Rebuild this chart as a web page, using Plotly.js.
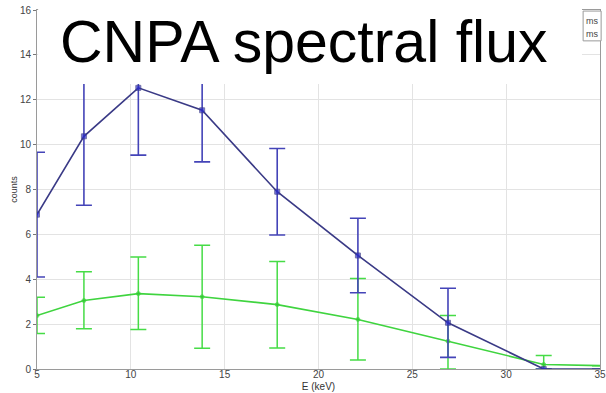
<!DOCTYPE html>
<html>
<head>
<meta charset="utf-8">
<script src="https://cdn.plot.ly/plotly-3.0.1.min.js"></script>
<style>
  html, body { margin: 0; padding: 0; background: #ffffff; }
  #chart { width: 606px; height: 393px; }
</style>
</head>
<body>
<div id="chart"></div>
<script>
// Energy (keV) sample positions
const energy = [5.0, 7.5, 10.4, 13.8, 17.8, 22.1, 26.9, 32.0, 35.0];

// Series 1 (blue)
const blueCounts = [6.88, 10.37, 12.53, 11.53, 7.90, 5.06, 2.06, 0.0, 0.0];
const blueErr    = [2.78, 3.07, 3.00, 2.30, 1.93, 1.66, 1.54, null, null];

// Series 2 (green)
const greenCounts   = [2.38, 3.05, 3.36, 3.22, 2.87, 2.21, 1.24, 0.20, 0.15];
const greenErrPlus  = [0.82, 1.28, 1.63, 2.30, 1.92, 1.82, 1.14, 0.40, null];
const greenErrMinus = [0.80, 1.26, 1.60, 2.30, 1.93, 1.81, 1.24, 0.20, null];

// Axis ticks
const xTicks = [5, 10, 15, 20, 25, 30, 35];
const yTicks = [0, 2, 4, 6, 8, 10, 12, 14, 16];

const titleText = "CNPA spectral flux";
const legendTexts = ["ms", "ms"];

// marker sizes: last sample sits on the frame edge and shows no marker
const blueSizes = energy.map((e, i) => (i === energy.length - 1 ? 0 : 5));
const greenSizes = energy.map((e, i) => (i === energy.length - 1 ? 0 : 4));

const traces = [
  {
    x: energy, y: greenCounts, type: "scatter", mode: "lines+markers",
    line: { color: "#3fd43f", width: 1.6 },
    marker: { color: "#2fc82f", size: greenSizes, symbol: "circle" },
    error_y: { type: "data", array: greenErrPlus, arrayminus: greenErrMinus, symmetric: false,
               color: "#46dc46", thickness: 1.5, width: 8 },
    showlegend: false
  },
  {
    x: energy, y: blueCounts, type: "scatter", mode: "lines+markers",
    line: { color: "#3a3a86", width: 1.6 },
    marker: { color: "#2a2acc", size: blueSizes, symbol: "square" },
    error_y: { type: "data", array: blueErr, symmetric: true,
               color: "#4444b8", thickness: 1.6, width: 8 },
    showlegend: false
  }
];

const tickFont = { family: "Liberation Sans, Arial, sans-serif", size: 10, color: "#444444" };

const layout = {
  width: 606, height: 393,
  margin: { l: 37, r: 6, t: 10, b: 24, pad: 0 },
  paper_bgcolor: "#ffffff", plot_bgcolor: "#ffffff",
  showlegend: false,
  xaxis: {
    range: [5, 35], tickvals: xTicks, ticktext: xTicks.map(String),
    showgrid: true, gridcolor: "#e3e3e3", gridwidth: 1,
    showline: true, linecolor: "#9a9a9a", linewidth: 1, mirror: true,
    ticks: "", zeroline: false, tickfont: tickFont, ticklabelstandoff: -4,
    ticklabeloverflow: "allow",
    title: { text: "E (keV)", font: { family: "Liberation Sans, Arial, sans-serif", size: 10, color: "#333333" }, standoff: 3 }
  },
  yaxis: {
    range: [0, 16], tickvals: yTicks, ticktext: yTicks.map(String),
    showgrid: true, gridcolor: "#e3e3e3", gridwidth: 1,
    showline: true, linecolor: "#9a9a9a", linewidth: 1, mirror: true,
    ticks: "outside", ticklen: 3, tickcolor: "#777777", zeroline: false, tickfont: tickFont,
    title: { text: "counts", font: { family: "Liberation Sans, Arial, sans-serif", size: 9, color: "#333333" }, standoff: 0 }
  },
  shapes: [
    // legend box (mostly hidden behind the title box)
    { type: "rect", xref: "paper", yref: "paper", x0: 0.970, x1: 1.002, y0: 0.914, y1: 0.997,
      line: { color: "#9a9a9a", width: 1 }, fillcolor: "#ffffff", layer: "above" },
    // white title box overlapping the plot
    { type: "rect", xref: "paper", yref: "paper", x0: 0.002, x1: 0.968, y0: 0.794, y1: 1.03,
      line: { width: 0 }, fillcolor: "#ffffff", layer: "above" }
  ],
  annotations: [
    { text: titleText, xref: "paper", yref: "paper", x: 0.473, y: 0.912,
      xanchor: "center", yanchor: "middle", showarrow: false,
      font: { family: "Liberation Sans, Arial, sans-serif", size: 59, color: "#000000" } },
    { text: legendTexts[0], xref: "paper", yref: "paper", x: 0.9995, y: 0.969,
      xanchor: "right", yanchor: "middle", showarrow: false,
      font: { family: "Liberation Sans, Arial, sans-serif", size: 9, color: "#444444" } },
    { text: legendTexts[1], xref: "paper", yref: "paper", x: 0.9995, y: 0.932,
      xanchor: "right", yanchor: "middle", showarrow: false,
      font: { family: "Liberation Sans, Arial, sans-serif", size: 9, color: "#444444" } }
  ]
};

Plotly.newPlot("chart", traces, layout, { displayModeBar: false, staticPlot: true });
</script>
</body>
</html>
